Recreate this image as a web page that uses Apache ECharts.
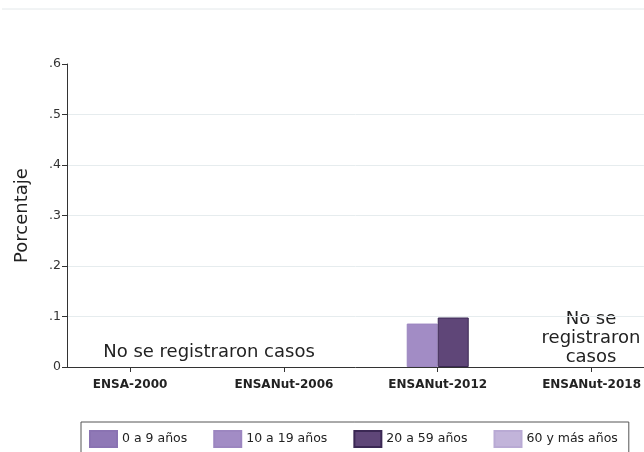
<!DOCTYPE html>
<html>
<head>
<meta charset="utf-8">
<script src="https://cdn.jsdelivr.net/npm/echarts@6/dist/echarts.min.js"></script>
<style>
  html, body { margin: 0; padding: 0; background: #fff; }
  #main { width: 644px; height: 452px; }
</style>
</head>
<body>
<div id="main"></div>
<script>
var categories = ['ENSA-2000', 'ENSANut-2006', 'ENSANut-2012', 'ENSANut-2018'];
var seriesNames = ['0 a 9 años', '10 a 19 años', '20 a 59 años', '60 y más años'];
// null = no se registraron casos / sin barra
var age0to9 = [null, null, null, null];
var age10to19 = [null, null, 0.086, null];
var age20to59 = [null, null, 0.098, null];
var age60plus = [null, null, null, null];
var yTicks = [0, 0.1, 0.2, 0.3, 0.4, 0.5, 0.6];

var colors = ['#8f78b6', '#a28cc5', '#5f4678', '#c2b4da'];
var borders = ['#8a73b2', '#9c86c0', '#3b2854', '#b9aad4'];
var values = [age0to9, age10to19, age20to59, age60plus];

var myChart = echarts.init(document.getElementById('main'));
var font = 'DejaVu Sans';

var catIdx = [];
for (var c = 0; c < categories.length; c++) catIdx.push(c);

var series = [];
for (var i = 0; i < seriesNames.length; i++) {
    var d = [];
    for (var j = 0; j < categories.length; j++) {
        d.push([j, values[i][j]]);
    }
    series.push({
        name: seriesNames[i],
        type: 'bar',
        barWidth: 31,
        barGap: 0,
        data: d,
        itemStyle: { color: colors[i], borderColor: borders[i], borderWidth: 1 }
    });
}

var option = {
    animation: false,
    textStyle: { fontFamily: font },
    grid: { left: 67, right: 0, top: 64, bottom: 85 },
    graphic: [
        { type: 'line', shape: { x1: 2, y1: 9, x2: 644, y2: 9 }, style: { stroke: '#e3e8ea', lineWidth: 1 } },
        { type: 'text', x: 209, y: 352, style: { text: 'No se registraron casos', font: '18px "DejaVu Sans"', fill: '#222', align: 'center', verticalAlign: 'middle' } },
        { type: 'text', x: 591, y: 338, style: { text: 'No se\nregistraron\ncasos', font: '18px "DejaVu Sans"', lineHeight: 19, fill: '#222', align: 'center', verticalAlign: 'middle' } }
    ],
    legend: {
        data: seriesNames,
        left: 81,
        top: 422,
        orient: 'horizontal',
        icon: 'rect',
        itemWidth: 27,
        itemHeight: 16,
        itemGap: 26,
        borderColor: '#555',
        borderWidth: 1,
        padding: [8, 11, 20, 8],
        textStyle: { fontSize: 12.5, color: '#222', fontFamily: font }
    },
    xAxis: {
        type: 'value',
        min: -0.41,
        max: 3.34,
        axisLine: { show: true, onZero: false, lineStyle: { color: '#333' } },
        axisTick: { show: true, length: 5, customValues: catIdx, lineStyle: { color: '#333' } },
        axisLabel: {
            customValues: catIdx,
            fontSize: 12,
            fontWeight: 'bold',
            color: '#222',
            margin: 12,
            formatter: function (v) { return categories[Math.round(v)]; }
        },
        splitLine: { show: false }
    },
    yAxis: {
        type: 'value',
        min: 0,
        max: 0.6,
        interval: 0.1,
        name: 'Porcentaje',
        nameLocation: 'middle',
        nameGap: 36,
        nameTextStyle: { fontSize: 18, color: '#222' },
        axisLine: { show: true, onZero: false, lineStyle: { color: '#333' } },
        axisTick: { show: true, length: 5, lineStyle: { color: '#333' } },
        axisLabel: {
            fontSize: 12.5,
            color: '#333',
            margin: 6,
            formatter: function (v) {
                var t = Math.round(v * 10) / 10;
                if (yTicks.indexOf(t) < 0) return '';
                return t === 0 ? '0' : String(t).replace('0.', '.');
            }
        },
        splitLine: { show: true, showMinLine: false, showMaxLine: false, lineStyle: { color: '#e6ecee', width: 1 } }
    },
    series: series
};
myChart.setOption(option);
</script>
</body>
</html>
